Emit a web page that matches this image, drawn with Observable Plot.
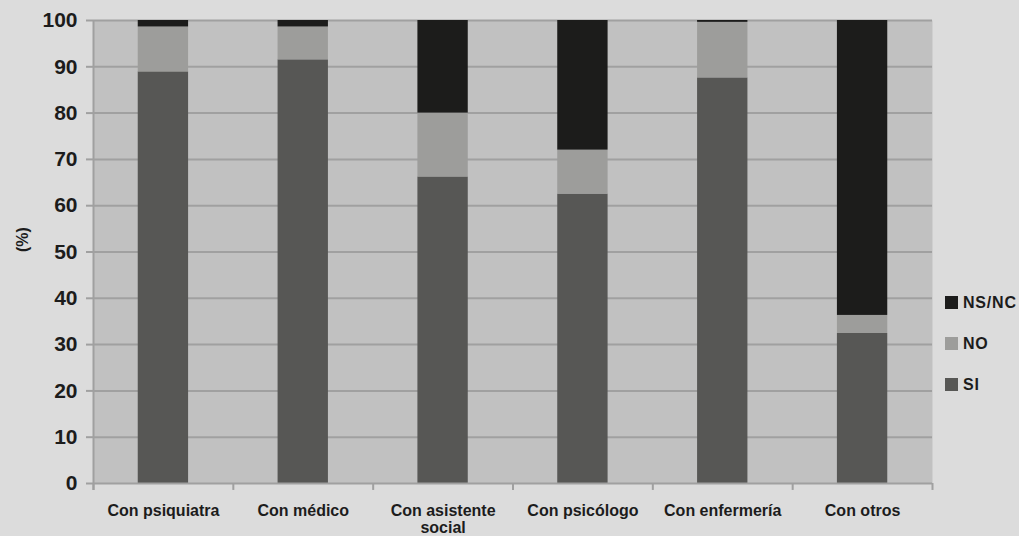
<!DOCTYPE html>
<html>
<head>
<meta charset="utf-8">
<script src="https://cdn.jsdelivr.net/npm/d3@7"></script>
<script src="https://cdn.jsdelivr.net/npm/@observablehq/plot@0.6"></script>
<style>
  html, body { margin: 0; padding: 0; background: #dcdcdc; }
  #chart { position: relative; width: 1019px; height: 536px; font-family: "Liberation Sans", Arial, sans-serif; color: #1c1c1c; }
  #chart svg { display: block; }
  .legend { position: absolute; left: 945px; top: 296px; }
  .legend .item { display: flex; align-items: center; height: 13px; margin-bottom: 28px; font-size: 16px; font-weight: bold; letter-spacing: 0.8px; }
  .legend .swatch { width: 13px; height: 13px; margin-right: 5px; flex: none; }
</style>
</head>
<body>
<div id="chart"></div>
<script>
// Categories (contact type) and stacked series, in percent
const categories = ["Con psiquiatra", "Con médico", "Con asistente social", "Con psicólogo", "Con enfermería", "Con otros"];
const series = ["SI", "NO", "NS/NC"];
const siValues = [88.9, 91.5, 66.2, 62.5, 87.6, 32.4];
const noValues = [9.7, 7.1, 13.8, 9.5, 12.0, 3.9];
const nsncValues = [1.4, 1.4, 20.0, 28.0, 0.4, 63.7];
const seriesColors = ["#575755", "#9d9d9b", "#1c1c1b"];
const yTicks = [0, 10, 20, 30, 40, 50, 60, 70, 80, 90, 100];
const categoryLabels = {"Con asistente social": "Con asistente\nsocial"};

const valuesBySeries = {"SI": siValues, "NO": noValues, "NS/NC": nsncValues};
const rows = [];
categories.forEach((category, i) => {
  series.forEach(s => rows.push({category, serie: s, value: valuesBySeries[s][i]}));
});

const W = 1019, H = 536;
const mL = 93, mR = 87, mT = 20, mB = 53;
const halfStep = (W - mL - mR) / categories.length / 2;
const axisGray = "#a0a0a0";
const first = categories[0], last = categories[categories.length - 1];

const chart = Plot.plot({
  width: W,
  height: H,
  marginLeft: mL,
  marginRight: mR,
  marginTop: mT,
  marginBottom: mB,
  style: {background: "transparent", fontFamily: "'Liberation Sans', Arial, sans-serif", color: "#1c1c1c"},
  x: {domain: categories, paddingInner: 0.64, paddingOuter: 0.32, round: false, label: null},
  y: {domain: [0, 100], label: null},
  color: {domain: series, range: seriesColors},
  marks: [
    Plot.frame({fill: "#c1c1c1", stroke: null}),
    Plot.gridY(yTicks.filter(t => t > 0), {stroke: axisGray, strokeOpacity: 1, strokeWidth: 2}),
    Plot.barY(rows, Plot.stackY({order: series, x: "category", y: "value", fill: "serie"})),
    // baseline and left axis line
    Plot.ruleY([0], {stroke: axisGray, strokeWidth: 2}),
    Plot.ruleX([first], {x: d => d, dx: -halfStep, y1: -1.5, y2: 100, stroke: axisGray, strokeWidth: 2}),
    // category boundary ticks below the baseline
    Plot.ruleX(categories, {x: d => d, dx: -halfStep, y1: 0, y2: -1.5, stroke: axisGray, strokeWidth: 2}),
    Plot.ruleX([last], {x: d => d, dx: halfStep, y1: 0, y2: -1.5, stroke: axisGray, strokeWidth: 2}),
    Plot.axisY({ticks: yTicks, tickSize: 7, tickPadding: 9, stroke: axisGray, strokeWidth: 2, fill: "#1c1c1c",
      fontSize: 21, fontWeight: "bold", label: null}),
    Plot.axisX({tickSize: 0, tickPadding: 21, fill: "#1c1c1c", fontSize: 16, fontWeight: "bold", lineHeight: 1.05,
      tickFormat: d => categoryLabels[d] ?? d, label: null, style: {letterSpacing: "0.3px"}}),
    Plot.text(["(%)"], {frameAnchor: "left", text: d => d, rotate: -90, dx: -71, fontSize: 16, fontWeight: "bold", fill: "#1c1c1c"})
  ]
});

const root = document.getElementById("chart");
root.appendChild(chart);

// Legend: top to bottom NS/NC, NO, SI
const legend = document.createElement("div");
legend.className = "legend";
series.slice().reverse().forEach(s => {
  const item = document.createElement("div");
  item.className = "item";
  const sw = document.createElement("span");
  sw.className = "swatch";
  sw.style.background = seriesColors[series.indexOf(s)];
  const label = document.createElement("span");
  label.textContent = s;
  item.appendChild(sw);
  item.appendChild(label);
  legend.appendChild(item);
});
root.appendChild(legend);
</script>
</body>
</html>
